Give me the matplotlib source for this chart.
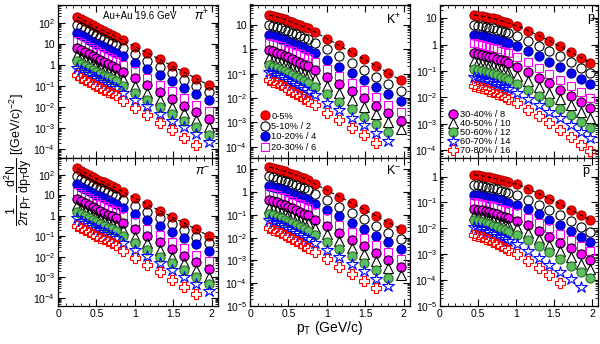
import numpy as np
import matplotlib
matplotlib.use("Agg")
import matplotlib.pyplot as plt
from matplotlib.ticker import MultipleLocator, FixedLocator, FuncFormatter, NullFormatter

plt.rcParams['font.family'] = ['Liberation Sans', 'DejaVu Sans']
plt.rcParams['mathtext.fontset'] = 'custom'
plt.rcParams['mathtext.rm'] = 'Liberation Sans'
plt.rcParams['mathtext.it'] = 'Liberation Sans:italic'
plt.rcParams['mathtext.bf'] = 'Liberation Sans:bold'

# centrality classes and their scale factors
cent_labels = ["0-5%", "5-10% / 2", "10-20% / 4", "20-30% / 6", "30-40% / 8",
               "40-50% / 10", "50-60% / 12", "60-70% / 14", "70-80% / 16"]

# pT bin centres (GeV/c)
pt_pik = [0.25, 0.30, 0.35, 0.40, 0.45, 0.50, 0.55, 0.60, 0.65, 0.70, 0.75,
          0.84, 1.00, 1.16, 1.32, 1.48, 1.64, 1.80, 1.96]
pt_p = [0.45, 0.50, 0.55, 0.60, 0.65, 0.70, 0.75, 0.80, 0.85, 0.90,
        1.02, 1.16, 1.30, 1.44, 1.58, 1.72, 1.86, 1.98]

# log10 of the scaled invariant yields, one row per centrality
pip_log = [
    [2.29, 2.18, 2.08, 1.98, 1.88, 1.79, 1.70, 1.61, 1.52, 1.43, 1.34, 1.18, 0.87, 0.57, 0.26, -0.05, -0.35, -0.66, -0.97],
    [1.90, 1.79, 1.69, 1.59, 1.49, 1.40, 1.31, 1.22, 1.13, 1.04, 0.95, 0.80, 0.50, 0.20, -0.10, -0.41, -0.70, -1.01, -1.31],
    [1.51, 1.40, 1.30, 1.20, 1.10, 1.01, 0.92, 0.83, 0.74, 0.65, 0.56, 0.41, 0.11, -0.18, -0.49, -0.79, -1.08, -1.39, -1.69],
    [1.14, 1.03, 0.93, 0.83, 0.73, 0.64, 0.55, 0.46, 0.37, 0.28, 0.19, 0.01, -0.31, -0.62, -0.94, -1.26, -1.58, -1.90, -2.22],
    [0.81, 0.70, 0.60, 0.50, 0.40, 0.31, 0.22, 0.13, 0.04, -0.05, -0.14, -0.33, -0.65, -0.97, -1.29, -1.62, -1.94, -2.26, -2.59],
    [0.48, 0.37, 0.27, 0.17, 0.07, -0.02, -0.11, -0.20, -0.29, -0.38, -0.47, -0.68, -1.01, -1.33, -1.66, -1.99, -2.31, -2.64, -2.97],
    [0.17, 0.06, -0.04, -0.14, -0.24, -0.33, -0.42, -0.51, -0.60, -0.69, -0.78, -0.99, -1.33, -1.65, -1.99, -2.32, -2.65, -2.98, -3.32],
    [-0.15, -0.26, -0.36, -0.46, -0.56, -0.65, -0.74, -0.83, -0.92, -1.01, -1.10, -1.32, -1.65, -1.98, -2.32, -2.65, -2.98, -3.31, -3.65],
    [-0.50, -0.61, -0.71, -0.81, -0.91, -1.00, -1.09, -1.18, -1.27, -1.36, -1.45, -1.71, -2.06, -2.41, -2.76, -3.12, -3.46, -3.81],
]
pim_log = [
    [2.32, 2.21, 2.11, 2.01, 1.91, 1.82, 1.73, 1.64, 1.55, 1.46, 1.37, 1.18, 0.87, 0.57, 0.26, -0.05, -0.35, -0.66, -0.97],
    [1.93, 1.82, 1.72, 1.62, 1.52, 1.43, 1.34, 1.25, 1.16, 1.07, 0.98, 0.80, 0.50, 0.20, -0.10, -0.41, -0.70, -1.01, -1.31],
    [1.54, 1.43, 1.33, 1.23, 1.13, 1.04, 0.95, 0.86, 0.77, 0.68, 0.59, 0.41, 0.11, -0.18, -0.49, -0.79, -1.08, -1.39, -1.69],
    [1.17, 1.06, 0.96, 0.86, 0.76, 0.67, 0.58, 0.49, 0.40, 0.31, 0.22, 0.01, -0.31, -0.62, -0.94, -1.26, -1.58, -1.90, -2.22],
    [0.84, 0.73, 0.63, 0.53, 0.43, 0.34, 0.25, 0.16, 0.07, -0.02, -0.11, -0.33, -0.65, -0.97, -1.29, -1.62, -1.94, -2.26, -2.59],
    [0.51, 0.40, 0.30, 0.20, 0.10, 0.01, -0.08, -0.17, -0.26, -0.35, -0.44, -0.68, -1.01, -1.33, -1.66, -1.99, -2.31, -2.64, -2.97],
    [0.20, 0.09, -0.01, -0.11, -0.21, -0.30, -0.39, -0.48, -0.57, -0.66, -0.75, -0.99, -1.33, -1.65, -1.99, -2.32, -2.65, -2.98, -3.32],
    [-0.12, -0.23, -0.33, -0.43, -0.53, -0.62, -0.71, -0.80, -0.89, -0.98, -1.07, -1.32, -1.65, -1.98, -2.32, -2.65, -2.98, -3.31, -3.65],
    [-0.47, -0.58, -0.68, -0.78, -0.88, -0.97, -1.06, -1.15, -1.24, -1.33, -1.42, -1.71, -2.06, -2.41, -2.76, -3.12, -3.46, -3.81],
]
kp_log = [
    [1.41, 1.37, 1.33, 1.28, 1.23, 1.17, 1.11, 1.05, 0.99, 0.92, 0.86, 0.72, 0.44, 0.16, -0.12, -0.40, -0.69, -0.98, -1.27],
    [1.00, 0.96, 0.91, 0.86, 0.81, 0.75, 0.68, 0.62, 0.56, 0.48, 0.42, 0.28, 0.00, -0.28, -0.56, -0.84, -1.13, -1.42, -1.71],
    [0.59, 0.54, 0.50, 0.44, 0.39, 0.32, 0.25, 0.19, 0.12, 0.05, -0.02, -0.16, -0.44, -0.71, -0.99, -1.27, -1.56, -1.84, -2.13],
    [0.27, 0.22, 0.17, 0.12, 0.06, -0.01, -0.08, -0.15, -0.21, -0.29, -0.36, -0.51, -0.80, -1.09, -1.38, -1.67, -1.97, -2.27, -2.57],
    [-0.03, -0.08, -0.13, -0.20, -0.26, -0.33, -0.40, -0.47, -0.55, -0.63, -0.70, -0.85, -1.14, -1.43, -1.73, -2.02, -2.32, -2.63, -2.93],
    [-0.37, -0.42, -0.48, -0.54, -0.61, -0.68, -0.75, -0.83, -0.90, -0.99, -1.06, -1.21, -1.50, -1.79, -2.08, -2.37, -2.67, -2.97, -3.27],
    [-0.65, -0.71, -0.77, -0.83, -0.90, -0.98, -1.06, -1.14, -1.21, -1.30, -1.38, -1.54, -1.84, -2.15, -2.46, -2.77, -3.08, -3.40],
    [-0.92, -0.99, -1.05, -1.13, -1.21, -1.30, -1.38, -1.47, -1.56, -1.65, -1.74, -1.89, -2.20, -2.51, -2.81, -3.12, -3.44, -3.75],
    [-1.26, -1.33, -1.40, -1.48, -1.56, -1.66, -1.75, -1.84, -1.93, -2.03, -2.12, -2.28, -2.60, -2.91, -3.23, -3.54, -3.87],
]
km_log = [
    [1.09, 1.05, 1.01, 0.96, 0.91, 0.85, 0.79, 0.73, 0.67, 0.60, 0.54, 0.36, 0.08, -0.20, -0.48, -0.76, -1.05, -1.34, -1.63],
    [0.68, 0.64, 0.59, 0.54, 0.49, 0.43, 0.36, 0.30, 0.24, 0.16, 0.10, -0.08, -0.36, -0.64, -0.92, -1.20, -1.49, -1.78, -2.07],
    [0.27, 0.22, 0.18, 0.12, 0.07, 0.00, -0.07, -0.13, -0.20, -0.27, -0.34, -0.52, -0.80, -1.07, -1.35, -1.63, -1.92, -2.20, -2.49],
    [-0.05, -0.10, -0.15, -0.20, -0.26, -0.33, -0.40, -0.47, -0.53, -0.61, -0.68, -0.87, -1.16, -1.45, -1.74, -2.03, -2.33, -2.63, -2.93],
    [-0.35, -0.40, -0.45, -0.52, -0.58, -0.65, -0.72, -0.79, -0.87, -0.95, -1.02, -1.21, -1.50, -1.79, -2.09, -2.38, -2.68, -2.99, -3.29],
    [-0.69, -0.74, -0.80, -0.86, -0.93, -1.00, -1.07, -1.15, -1.22, -1.31, -1.38, -1.57, -1.86, -2.15, -2.44, -2.73, -3.03, -3.33, -3.63],
    [-0.97, -1.03, -1.09, -1.15, -1.22, -1.30, -1.38, -1.46, -1.53, -1.62, -1.70, -1.90, -2.20, -2.51, -2.82, -3.13, -3.44, -3.76],
    [-1.24, -1.31, -1.37, -1.45, -1.53, -1.62, -1.70, -1.79, -1.88, -1.97, -2.06, -2.25, -2.56, -2.87, -3.17, -3.48, -3.80, -4.11],
    [-1.58, -1.65, -1.72, -1.80, -1.88, -1.98, -2.07, -2.16, -2.25, -2.35, -2.44, -2.64, -2.96, -3.27, -3.59, -3.90, -4.23],
]
p_log = [
    [1.12, 1.10, 1.08, 1.05, 1.02, 0.99, 0.95, 0.91, 0.87, 0.82, 0.70, 0.53, 0.34, 0.14, -0.07, -0.28, -0.50, -0.69],
    [0.74, 0.72, 0.70, 0.67, 0.64, 0.61, 0.57, 0.53, 0.49, 0.44, 0.32, 0.15, -0.04, -0.24, -0.45, -0.66, -0.88, -1.07],
    [0.36, 0.34, 0.32, 0.29, 0.26, 0.22, 0.18, 0.14, 0.10, 0.05, -0.07, -0.25, -0.44, -0.65, -0.86, -1.07, -1.30, -1.49],
    [0.04, 0.01, -0.02, -0.05, -0.09, -0.13, -0.18, -0.23, -0.28, -0.33, -0.47, -0.67, -0.88, -1.10, -1.33, -1.57, -1.81, -2.02],
    [-0.32, -0.35, -0.38, -0.42, -0.46, -0.49, -0.54, -0.59, -0.64, -0.70, -0.84, -1.04, -1.25, -1.47, -1.71, -1.94, -2.19, -2.40],
    [-0.64, -0.67, -0.70, -0.74, -0.78, -0.82, -0.87, -0.93, -0.98, -1.04, -1.18, -1.38, -1.60, -1.83, -2.07, -2.31, -2.56, -2.78],
    [-0.92, -0.95, -0.99, -1.03, -1.08, -1.12, -1.17, -1.23, -1.28, -1.35, -1.50, -1.71, -1.94, -2.18, -2.43, -2.68, -2.94, -3.16],
    [-1.24, -1.28, -1.31, -1.36, -1.40, -1.45, -1.51, -1.56, -1.62, -1.68, -1.84, -2.06, -2.29, -2.54, -2.79, -3.05, -3.31, -3.54],
    [-1.56, -1.60, -1.64, -1.70, -1.75, -1.80, -1.86, -1.93, -1.99, -2.06, -2.23, -2.47, -2.72, -2.98, -3.25, -3.52, -3.81, -4.05],
]
pbar_log = [
    [0.07, 0.05, 0.03, 0.00, -0.03, -0.06, -0.10, -0.14, -0.18, -0.23, -0.30, -0.47, -0.66, -0.86, -1.07, -1.28, -1.50, -1.69],
    [-0.32, -0.34, -0.36, -0.40, -0.43, -0.46, -0.50, -0.54, -0.59, -0.64, -0.71, -0.89, -1.08, -1.29, -1.50, -1.72, -1.95, -2.14],
    [-0.70, -0.72, -0.74, -0.78, -0.81, -0.84, -0.88, -0.92, -0.97, -1.02, -1.09, -1.27, -1.46, -1.67, -1.88, -2.10, -2.33, -2.52],
    [-1.00, -1.02, -1.05, -1.08, -1.11, -1.15, -1.19, -1.24, -1.28, -1.33, -1.41, -1.59, -1.79, -2.00, -2.22, -2.44, -2.67, -2.87],
    [-1.25, -1.28, -1.30, -1.34, -1.38, -1.41, -1.46, -1.51, -1.55, -1.61, -1.70, -1.89, -2.10, -2.32, -2.55, -2.77, -3.01, -3.22],
    [-1.47, -1.50, -1.53, -1.57, -1.62, -1.66, -1.71, -1.76, -1.81, -1.87, -1.97, -2.17, -2.40, -2.63, -2.87, -3.11, -3.36, -3.58],
    [-1.69, -1.73, -1.76, -1.81, -1.85, -1.90, -1.95, -2.01, -2.07, -2.13, -2.24, -2.45, -2.69, -2.93, -3.18, -3.44, -3.70, -3.93],
    [-1.95, -2.00, -2.04, -2.10, -2.16, -2.21, -2.28, -2.34, -2.41, -2.49, -2.62, -2.86, -3.13, -3.40, -3.68, -3.96, -4.26],
    [-2.24, -2.29, -2.35, -2.41, -2.47, -2.54, -2.61, -2.68, -2.75, -2.84, -2.99, -3.25, -3.53, -3.82, -4.13],
]

# marker style per centrality
styles = [
    dict(marker='o', ms=6.6, mfc='red', mec='#b00000'),
    dict(marker='o', ms=6.6, mfc='none', mec='black'),
    dict(marker='o', ms=6.6, mfc='blue', mec='#000090'),
    dict(marker='s', ms=5.8, mfc='none', mec='magenta'),
    dict(marker='o', ms=6.6, mfc='magenta', mec='black'),
    dict(marker='^', ms=7.0, mfc='none', mec='black'),
    dict(marker='o', ms=6.6, mfc='#5cbf5c', mec='#2f6f2f'),
    dict(marker='*', ms=8.6, mfc='none', mec='blue'),
    dict(marker='P', ms=7.4, mfc='none', mec='red'),
]

fig = plt.figure(figsize=(6.0, 3.44), dpi=100)
W, H = 600.0, 344.0

def add_panel(x0, x1, ytop, ybot):
    return fig.add_axes([x0 / W, (H - ybot) / H, (x1 - x0) / W, (ybot - ytop) / H])

def ylabel_fmt(v, pos):
    e = int(round(np.log10(v)))
    if e == 0:
        return '1'
    if e == 1:
        return '10'
    return r'$10^{%d}$' % e

def xlabel_fmt(v, pos):
    return '%g' % v

panels = [
    # (column x-range, row, data, pt, ylim, label, label position)
    ((58, 218), 0, pip_log, pt_pik, (3.7e-5, 740), r'$\pi^{+}$', (0.90, 0.925)),
    ((250, 410), 0, kp_log, pt_pik, (3.4e-5, 70), r'K$^{+}$', (0.90, 0.90)),
    ((440, 598), 0, p_log, pt_p, (5.0e-5, 33), 'p', (0.955, 0.91)),
    ((58, 218), 1, pim_log, pt_pik, (4.0e-5, 675), r'$\pi^{-}$', (0.905, 0.905)),
    ((250, 410), 1, km_log, pt_pik, (1e-5, 31), r'K$^{-}$', (0.90, 0.915)),
    ((440, 598), 1, pbar_log, pt_p, (1e-5, 5.2), r'$\overline{\rm p}$', (0.93, 0.905)),
]

rows_px = [(4.5, 158), (158, 306)]
axes = []
handles = None
for (x0, x1), r, data, pt, ylim, lab, lpos in panels:
    ytop, ybot = rows_px[r]
    ax = add_panel(x0, x1, ytop, ybot)
    hs = []
    for row, st in zip(data, styles):
        n = len(row)
        h, = ax.plot(pt[:n], 10.0 ** np.array(row), ls='none', mew=0.8, **st)
        hs.append(h)
    # fit curve on the most central spectrum
    ax.plot(pt[:len(data[0])], 10.0 ** np.array(data[0]), color='black',
            lw=0.8, ls=(0, (3.5, 2.5)), zorder=5)
    if handles is None:
        handles = hs
    ax.set_yscale('log')
    ax.set_xlim(0, 2.08)
    ax.set_ylim(*ylim)
    # decade ticks kept inside the visible range
    lo, hi = int(np.floor(np.log10(ylim[0]))), int(np.ceil(np.log10(ylim[1])))
    major = [10.0 ** e for e in range(lo, hi + 1) if ylim[0] <= 10.0 ** e <= ylim[1]]
    minor = [m * 10.0 ** e for e in range(lo, hi + 1) for m in range(2, 10)
             if ylim[0] <= m * 10.0 ** e <= ylim[1]]
    ax.yaxis.set_major_locator(FixedLocator(major))
    ax.yaxis.set_minor_locator(FixedLocator(minor))
    ax.xaxis.set_major_locator(MultipleLocator(0.5))
    ax.xaxis.set_minor_locator(MultipleLocator(0.1))
    ax.xaxis.set_major_formatter(FuncFormatter(xlabel_fmt))
    ax.yaxis.set_major_formatter(FuncFormatter(ylabel_fmt))
    ax.yaxis.set_minor_formatter(NullFormatter())
    ax.tick_params(which='both', direction='in', top=True, right=True,
                   labelsize=7.5, pad=2)
    ax.tick_params(which='major', length=5, width=0.8)
    ax.tick_params(which='minor', length=2.5, width=0.6)
    if r == 0:
        ax.tick_params(labelbottom=False)
    for s in ax.spines.values():
        s.set_linewidth(0.9)
    ax.text(lpos[0], lpos[1], lab, transform=ax.transAxes, ha='center',
            va='center', fontsize=9)
    axes.append(ax)

axes[0].text(0.28, 0.925, 'Au+Au 19.6 GeV', transform=axes[0].transAxes,
             ha='left', va='center', fontsize=7)

# centrality legends split over the K+ and p panels
axes[1].legend(handles[:4], cent_labels[:4], loc='lower left',
               bbox_to_anchor=(0.07, 0.04), frameon=False, fontsize=6.7,
               handlelength=0.8, handletextpad=0.3, labelspacing=0.15,
               borderaxespad=0, borderpad=0, numpoints=1)
axes[2].legend(handles[4:], cent_labels[4:], loc='lower left',
               bbox_to_anchor=(0.06, 0.02), frameon=False, fontsize=6.7,
               handlelength=0.8, handletextpad=0.3, labelspacing=0.0,
               borderaxespad=0, borderpad=0, numpoints=1)

fig.text(330 / W, (H - 328) / H, r'$\mathrm{p}_{\mathrm{T}}$ (GeV/c)',
         ha='center', va='center', fontsize=10)
fig.text(18 / W, (H - 160) / H,
         r'$\dfrac{1}{2\pi\,\mathrm{p}_{\mathrm{T}}}\,\dfrac{\mathrm{d}^{2}\mathrm{N}}{\mathrm{dp}_{\mathrm{T}}\mathrm{dy}}$ [(GeV/c)$^{-2}$]',
         rotation=90, ha='center', va='center', fontsize=9)

fig.savefig('out.png', dpi=100)
